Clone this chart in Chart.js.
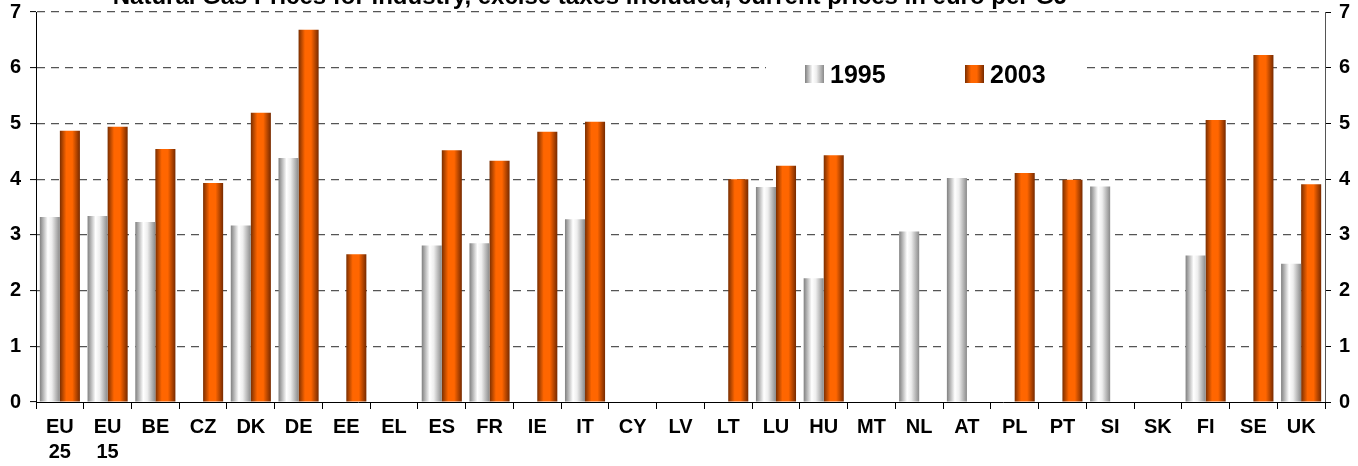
<!DOCTYPE html>
<html>
<head>
<meta charset="utf-8">
<title>Natural Gas Prices for industry</title>
<script src="https://cdn.jsdelivr.net/npm/chart.js@4.4.1/dist/chart.umd.min.js"></script>
<style>
  body { margin: 0; background: #fff; }
  #wrap { width: 1358px; height: 466px; }
</style>
</head>
<body>
<div id="wrap"><canvas id="gasChart" width="1358" height="466"></canvas></div>
<script>
// Chart data
const titleText = 'Natural Gas Prices for industry, excise taxes included, current prices in euro per GJ';
const countries = [
    ['EU', '25'], ['EU', '15'], 'BE', 'CZ', 'DK', 'DE', 'EE', 'EL', 'ES', 'FR', 'IE', 'IT', 'CY', 'LV',
    'LT', 'LU', 'HU', 'MT', 'NL', 'AT', 'PL', 'PT', 'SI', 'SK', 'FI', 'SE', 'UK'
];
const prices1995 = [
    3.32, 3.34, 3.23, null, 3.17, 4.38, null, null, 2.81, 2.85, null, 3.28, null, null,
    null, 3.86, 2.22, null, 3.06, 4.02, null, null, 3.87, null, 2.63, null, 2.48
];
const prices2003 = [
    4.87, 4.94, 4.54, 3.93, 5.19, 6.68, 2.65, null, 4.52, 4.33, 4.85, 5.03, null, null,
    4.00, 4.24, 4.43, null, null, null, 4.11, 3.99, null, null, 5.06, 6.23, 3.91
];
const yTicks = [0, 1, 2, 3, 4, 5, 6, 7];

const FONT = "'Liberation Sans', Arial, sans-serif";
const CAT_PCT = 0.84;

// gradient stops for the shaded bars
const greyStops = [[0, '#808080'], [0.4, '#ffffff'], [0.6, '#eeeeee'], [1, '#8a8a8a']];
const orangeStops = [[0, '#7a2e00'], [0.32, '#ff6600'], [0.62, '#ff6600'], [1, '#762a00']];

function makeGradient(ctx, left, width, stops) {
    const g = ctx.createLinearGradient(left, 0, left + width, 0);
    stops.forEach(s => g.addColorStop(s[0], s[1]));
    return g;
}

// Fill each bar with a horizontal gradient across its own width
function barFill(stops) {
    return function (context) {
        const chart = context.chart;
        const xScale = chart.scales.x;
        if (!xScale || context.type !== 'data') return stops[1][1];
        const center = xScale.getPixelForValue(context.dataIndex);
        const w = xScale.width / countries.length * CAT_PCT / 2;
        if (!isFinite(center) || !isFinite(w) || w <= 0) return stops[1][1];
        const left = context.datasetIndex === 0 ? center - w : center;
        return makeGradient(chart.ctx, left, w, stops);
    };
}

// y axes: keep the plot top at 12px, no extra room for the top label
function fixYAxis(width) {
    return function (scale) {
        scale.width = width;
        scale.paddingTop = 12;
        scale.paddingBottom = 0;
    };
}

// Title is partly cut off at the top edge, like the original
const topTitle = {
    id: 'topTitle',
    afterDraw(chart) {
        const ctx = chart.ctx;
        ctx.save();
        ctx.font = 'bold 24px ' + FONT;
        ctx.fillStyle = '#000';
        ctx.textAlign = 'center';
        ctx.textBaseline = 'alphabetic';
        ctx.fillText(titleText, 590, 4);
        ctx.restore();
    }
};

// Legend sitting inside the plot, on a white box over the gridline
const innerLegend = {
    id: 'innerLegend',
    afterDatasetsDraw(chart) {
        const ctx = chart.ctx;
        const sets = chart.data.datasets;
        const items = [
            { x: 805, stops: greyStops, label: sets[0].label },
            { x: 965, stops: orangeStops, label: sets[1].label }
        ];
        ctx.save();
        ctx.fillStyle = '#fff';
        ctx.fillRect(766, 56, 316, 36);
        ctx.font = 'bold 25px ' + FONT;
        ctx.textBaseline = 'alphabetic';
        items.forEach(item => {
            ctx.fillStyle = makeGradient(ctx, item.x, 19, item.stops);
            ctx.fillRect(item.x, 65, 19, 18);
            ctx.fillStyle = '#000';
            ctx.fillText(item.label, item.x + 25, 83);
        });
        ctx.restore();
    }
};

const ctx = document.getElementById('gasChart').getContext('2d');
new Chart(ctx, {
    type: 'bar',
    data: {
        labels: countries,
        datasets: [{
            label: '1995',
            data: prices1995,
            backgroundColor: barFill(greyStops),
            borderWidth: 0,
            yAxisID: 'y'
        }, {
            label: '2003',
            data: prices2003,
            backgroundColor: barFill(orangeStops),
            borderWidth: 0,
            yAxisID: 'y'
        }]
    },
    options: {
        responsive: false,
        animation: false,
        devicePixelRatio: 1,
        categoryPercentage: CAT_PCT,
        barPercentage: 1.0,
        layout: { padding: 0 },
        plugins: {
            legend: { display: false },
            title: { display: false },
            tooltip: { enabled: false }
        },
        scales: {
            x: {
                grid: {
                    offset: true,
                    drawOnChartArea: false,
                    drawTicks: true,
                    tickLength: 7,
                    color: '#000'
                },
                border: { color: '#000', width: 1, z: 1 },
                ticks: {
                    color: '#000',
                    font: { family: FONT, size: 20, weight: 'bold', lineHeight: 1.25 },
                    padding: 6,
                    maxRotation: 0,
                    autoSkip: false
                },
                afterFit(scale) { scale.height = 64; }
            },
            y: {
                position: 'left',
                min: 0,
                max: 7,
                afterBuildTicks(scale) { scale.ticks = yTicks.map(v => ({ value: v })); },
                grid: {
                    // no dashed line on the zero baseline, the x axis is there
                    color: (c) => (c.tick && c.tick.value === 0 ? 'rgba(0,0,0,0)' : '#555'),
                    lineWidth: 1.2,
                    tickBorderDash: [],
                    tickColor: '#000',
                    tickWidth: 1,
                    tickLength: 6
                },
                border: { color: '#000', width: 1, dash: [8, 6] },
                ticks: {
                    color: '#000',
                    font: { family: FONT, size: 20, weight: 'bold' },
                    padding: 9
                },
                afterFit: fixYAxis(36)
            },
            y2: {
                position: 'right',
                min: 0,
                max: 7,
                afterBuildTicks(scale) { scale.ticks = yTicks.map(v => ({ value: v })); },
                grid: {
                    drawOnChartArea: false,
                    tickColor: '#000',
                    tickLength: 6
                },
                border: { color: '#555', width: 1 },
                ticks: {
                    color: '#000',
                    font: { family: FONT, size: 20, weight: 'bold' },
                    padding: 8
                },
                afterFit: fixYAxis(33)
            }
        }
    },
    plugins: [topTitle, innerLegend]
});
</script>
</body>
</html>
